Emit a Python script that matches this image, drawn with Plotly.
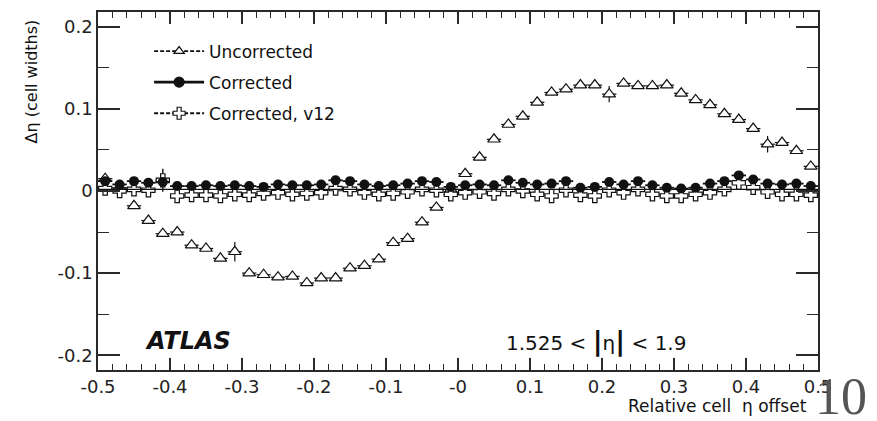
import plotly.graph_objects as go

# Bin centres (relative cell eta offset)
bins = [-0.49, -0.47, -0.45, -0.43, -0.41, -0.39, -0.37, -0.35, -0.33, -0.31,
        -0.29, -0.27, -0.25, -0.23, -0.21, -0.19, -0.17, -0.15, -0.13, -0.11,
        -0.09, -0.07, -0.05, -0.03, -0.01, 0.01, 0.03, 0.05, 0.07, 0.09,
        0.11, 0.13, 0.15, 0.17, 0.19, 0.21, 0.23, 0.25, 0.27, 0.29,
        0.31, 0.33, 0.35, 0.37, 0.39, 0.41, 0.43, 0.45, 0.47, 0.49]

uncorrected = [0.015, 0.004, -0.018, -0.036, -0.052, -0.050, -0.066, -0.070, -0.082, -0.074,
               -0.100, -0.102, -0.105, -0.104, -0.112, -0.106, -0.106, -0.094, -0.091, -0.083,
               -0.063, -0.058, -0.038, -0.020, 0.002, 0.021, 0.041, 0.063, 0.081, 0.091,
               0.108, 0.120, 0.124, 0.129, 0.129, 0.118, 0.131, 0.128, 0.128, 0.129,
               0.119, 0.111, 0.105, 0.094, 0.087, 0.076, 0.057, 0.059, 0.049, 0.030]
uncorrected_err = [0.002, 0.002, 0.002, 0.002, 0.002, 0.002, 0.002, 0.002, 0.002, 0.012,
                   0.002, 0.002, 0.002, 0.002, 0.002, 0.002, 0.002, 0.002, 0.002, 0.002,
                   0.002, 0.002, 0.002, 0.002, 0.002, 0.002, 0.002, 0.002, 0.002, 0.002,
                   0.002, 0.002, 0.002, 0.002, 0.002, 0.010, 0.002, 0.002, 0.002, 0.002,
                   0.002, 0.002, 0.002, 0.002, 0.002, 0.002, 0.010, 0.002, 0.002, 0.002]

corrected = [0.012, 0.008, 0.012, 0.010, 0.011, 0.006, 0.006, 0.007, 0.006, 0.007,
             0.006, 0.005, 0.008, 0.007, 0.007, 0.008, 0.013, 0.012, 0.008, 0.006,
             0.007, 0.009, 0.012, 0.011, 0.005, 0.007, 0.008, 0.007, 0.013, 0.010,
             0.008, 0.009, 0.012, 0.004, 0.005, 0.011, 0.008, 0.012, 0.007, 0.004,
             0.003, 0.004, 0.009, 0.012, 0.019, 0.014, 0.009, 0.008, 0.009, 0.006]

corrected_v12 = [0.003, 0.000, 0.002, 0.001, 0.013, -0.006, -0.005, -0.005, -0.006, -0.004,
                 -0.005, -0.003, -0.002, -0.004, -0.003, -0.002, 0.003, 0.002, -0.002, -0.004,
                 -0.003, -0.001, 0.002, 0.001, -0.004, -0.002, -0.001, -0.003, 0.002, 0.000,
                 -0.004, -0.006, 0.001, -0.005, -0.006, 0.001, -0.002, 0.002, -0.004, -0.006,
                 -0.006, -0.004, -0.002, 0.002, 0.010, 0.004, -0.001, -0.004, -0.004, -0.005]
v12_err = [0.002, 0.002, 0.002, 0.002, 0.014, 0.002, 0.002, 0.002, 0.002, 0.002,
           0.002, 0.002, 0.002, 0.002, 0.002, 0.002, 0.002, 0.002, 0.002, 0.002,
           0.002, 0.002, 0.002, 0.002, 0.002, 0.002, 0.002, 0.002, 0.002, 0.002,
           0.008, 0.002, 0.002, 0.002, 0.002, 0.002, 0.002, 0.002, 0.002, 0.002,
           0.002, 0.002, 0.002, 0.002, 0.002, 0.002, 0.002, 0.002, 0.002, 0.002]

bin_half_width = 0.01

x_tickvals = [-0.5, -0.4, -0.3, -0.2, -0.1, 0.0, 0.1, 0.2, 0.3, 0.4, 0.5]
x_ticktext = ["-0.5", "-0.4", "-0.3", "-0.2", "-0.1", "-0", "0.1", "0.2", "0.3", "0.4", "0.5"]
y_tickvals = [-0.2, -0.1, 0.0, 0.1, 0.2]
y_ticktext = ["-0.2", "-0.1", "0", "0.1", "0.2"]

legend_names = ["Uncorrected", "Corrected", "Corrected, v12"]

INK = "#111111"
AX = "#2a2a2a"
FONT = "DejaVu Sans, Arial, sans-serif"

fig = go.Figure()

# Uncorrected: open triangles
fig.add_trace(go.Scatter(
    x=bins, y=uncorrected, mode="markers", showlegend=False,
    marker=dict(symbol="triangle-up", size=11, color="white",
                line=dict(color=INK, width=1.2)),
    error_y=dict(type="data", array=uncorrected_err, color=INK, thickness=1.2, width=0),
    error_x=dict(type="constant", value=bin_half_width, color=INK, thickness=1.2, width=0),
))

# Corrected v12: open crosses
fig.add_trace(go.Scatter(
    x=bins, y=corrected_v12, mode="markers", showlegend=False,
    marker=dict(symbol="cross", size=11, color="white",
                line=dict(color=INK, width=1.2)),
    error_y=dict(type="data", array=v12_err, color=INK, thickness=1.4, width=0),
    error_x=dict(type="constant", value=bin_half_width, color=INK, thickness=1.2, width=0),
))

# Corrected: filled circles
fig.add_trace(go.Scatter(
    x=bins, y=corrected, mode="markers", showlegend=False,
    marker=dict(symbol="circle", size=10, color=INK, line=dict(color=INK, width=0)),
    error_y=dict(type="constant", value=0.002, color=INK, thickness=1.2, width=0),
    error_x=dict(type="constant", value=bin_half_width, color=INK, thickness=1.8, width=0),
))

# Legend entries
leg_styles = [
    dict(symbol="triangle-up", color="white", dash="4px,2px", lw=1.8, size=9),
    dict(symbol="circle", color=INK, dash="solid", lw=2.6, size=10),
    dict(symbol="cross", color="white", dash="4px,2px", lw=1.8, size=10),
]
for i, (name, st) in enumerate(zip(legend_names, leg_styles)):
    fig.add_trace(go.Scatter(
        x=[None], y=[None], mode="lines+markers", name=name,
        legendgroup=f"g{i}",
        line=dict(color=INK, width=st["lw"], dash=st["dash"]),
        marker=dict(symbol=st["symbol"], size=st["size"], color=st["color"],
                    line=dict(color=INK, width=1.2)),
    ))

axis_common = dict(
    showline=True, linecolor=AX, linewidth=1.5, mirror="allticks",
    ticks="inside", tickcolor=AX, tickwidth=1.5,
    showgrid=False, zeroline=False,
    tickfont=dict(family=FONT, size=18, color="#222222"),
)

fig.update_xaxes(
    range=[-0.5, 0.5], tickmode="array", tickvals=x_tickvals, ticktext=x_ticktext,
    ticklen=12,
    minor=dict(ticks="inside", ticklen=6, dtick=0.02, tick0=-0.5, tickcolor=AX, tickwidth=1.2),
    **axis_common,
)
fig.update_yaxes(
    range=[-0.218, 0.218], tickmode="array", tickvals=y_tickvals, ticktext=y_ticktext,
    ticklen=22,
    minor=dict(ticks="inside", ticklen=11, dtick=0.05, tick0=0, tickcolor=AX, tickwidth=1.2),
    **axis_common,
)

fig.add_hline(y=0.002, line=dict(color=INK, width=1.2))

fig.update_layout(
    width=877, height=421,
    margin=dict(l=98, r=59, t=10, b=51),
    paper_bgcolor="white", plot_bgcolor="white",
    font=dict(family=FONT, color=INK),
    legend=dict(
        x=0.071, y=0.94, xanchor="left", yanchor="top",
        bgcolor="rgba(0,0,0,0)", borderwidth=0,
        font=dict(family=FONT, size=17, color=INK),
        traceorder="grouped", tracegroupgap=6, itemwidth=50,
    ),
    annotations=[
        dict(text="Δη (cell widths)", textangle=-90, xref="paper", yref="paper",
             x=-0.093, y=0.985, xanchor="center", yanchor="top", showarrow=False,
             font=dict(family=FONT, size=16, color=INK)),
        dict(text="Relative cell  η offset", xref="paper", yref="paper",
             x=0.988, y=-0.1, xanchor="right", yanchor="middle", showarrow=False,
             font=dict(family=FONT, size=17, color=INK)),
        dict(text="<b><i>ATLAS</i></b>", xref="paper", yref="paper",
             x=0.062, y=0.08, xanchor="left", yanchor="middle", showarrow=False,
             font=dict(family=FONT, size=24, color=INK)),
        dict(text="1.525 < <b><span style='font-size:27px'>|</span></b>η<b><span style='font-size:27px'>|</span></b> < 1.9",
             xref="paper", yref="paper",
             x=0.564, y=0.08, xanchor="left", yanchor="middle", showarrow=False,
             font=dict(family=FONT, size=20, color=INK)),
        dict(text="10", xref="paper", yref="paper",
             x=0.993, y=-0.075, xanchor="left", yanchor="middle", showarrow=False,
             font=dict(family="Liberation Serif, Times New Roman, serif", size=52, color="#555555")),
    ],
)

fig.write_html("out.html")
